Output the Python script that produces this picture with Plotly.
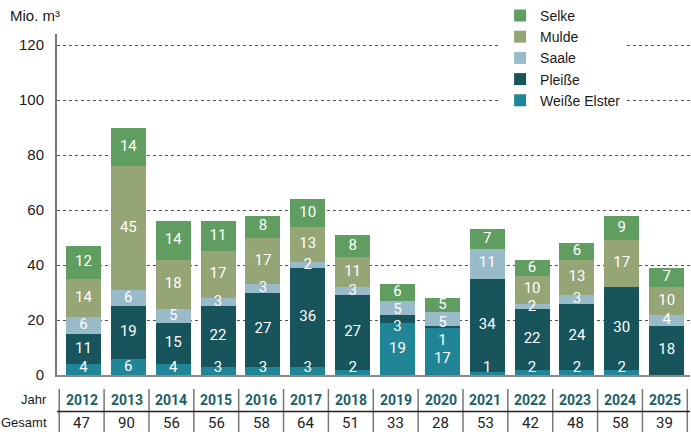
import plotly.graph_objects as go

# data (Mio. m³)
years = ["2012", "2013", "2014", "2015", "2016", "2017", "2018",
         "2019", "2020", "2021", "2022", "2023", "2024", "2025"]
weisse_elster = [4, 6, 4, 3, 3, 3, 2, 19, 17, 1, 2, 2, 2, 0]
pleisse = [11, 19, 15, 22, 27, 36, 27, 3, 1, 34, 22, 24, 30, 18]
saale = [6, 6, 5, 3, 3, 2, 3, 5, 5, 11, 2, 3, 0, 4]
mulde = [14, 45, 18, 17, 17, 13, 11, 0, 0, 0, 10, 13, 17, 10]
selke = [12, 14, 14, 11, 8, 10, 8, 6, 5, 7, 6, 6, 9, 7]
gesamt = [47, 90, 56, 56, 58, 64, 51, 33, 28, 53, 42, 48, 58, 39]

series = [
    ("Weiße Elster", weisse_elster, "#1f8597"),
    ("Pleiße", pleisse, "#17545c"),
    ("Saale", saale, "#98bac9"),
    ("Mulde", mulde, "#96a576"),
    ("Selke", selke, "#5f9e60"),
]

x = list(range(len(years)))
fig = go.Figure()

# stacked bars
for name, vals, col in series:
    fig.add_trace(go.Bar(x=x, y=vals, name=name, marker_color=col,
                         marker_line_width=0, hoverinfo="skip"))

# label positions: segment middles, pushed apart where segments are thin
n = len(years)
gap = 6.5
mids = [[0.0] * n for _ in series]
for i in range(n):
    b = 0
    pos = []
    for k, (name, vals, col) in enumerate(series):
        mids[k][i] = b + vals[i] / 2
        if vals[i] > 0:
            pos.append(k)
        b += vals[i]
    for _ in range(10):
        for a, c in zip(pos, pos[1:]):
            d = mids[c][i] - mids[a][i]
            if d < gap:
                mids[a][i] -= (gap - d) / 2
                mids[c][i] += (gap - d) / 2
    # keep the top label inside the bar, then push the others down
    mids[pos[-1]][i] = min(mids[pos[-1]][i], b - 2.8)
    for a, c in reversed(list(zip(pos, pos[1:]))):
        mids[a][i] = min(mids[a][i], mids[c][i] - gap)
    mids[pos[0]][i] = max(mids[pos[0]][i], 2.4)

for k, (name, vals, col) in enumerate(series):
    txt = [str(v) if v > 0 else "" for v in vals]
    fig.add_trace(go.Scatter(x=x, y=mids[k], text=txt, mode="text",
                             textfont=dict(family="Roboto", size=15, color="white"),
                             showlegend=False, hoverinfo="skip", cliponaxis=False))

# table under the chart
shapes = []
for i in range(n + 1):
    shapes.append(dict(type="line", xref="x", yref="paper",
                       x0=i - 0.54, x1=i - 0.54, y0=-0.041, y1=-0.175,
                       line=dict(color="#777777", width=1.5)))
shapes.append(dict(type="line", xref="x", yref="paper",
                   x0=-0.59, x1=13.52, y0=-0.107, y1=-0.107,
                   line=dict(color="#222222", width=1.5)))

annotations = []
for i, (yr, g) in enumerate(zip(years, gesamt)):
    annotations.append(dict(x=i - 0.04, y=-0.072, xref="x", yref="paper",
                            yanchor="middle", text="<b>" + yr + "</b>", showarrow=False,
                            font=dict(family="Roboto", size=14, color="#1d5f67")))
    annotations.append(dict(x=i - 0.04, y=-0.14, xref="x", yref="paper",
                            yanchor="middle", text=str(g), showarrow=False,
                            font=dict(family="Roboto", size=15, color="#222222")))
annotations.append(dict(x=-0.012, y=-0.072, xref="paper", yref="paper", text="Jahr",
                        xanchor="right", yanchor="middle", showarrow=False,
                        font=dict(size=13)))
annotations.append(dict(x=-0.012, y=-0.14, xref="paper", yref="paper", text="Gesamt",
                        xanchor="right", yanchor="middle", showarrow=False,
                        font=dict(size=13)))
annotations.append(dict(x=-0.077, y=1.053, xref="paper", yref="paper", text="Mio. m³",
                        xanchor="left", yanchor="middle", showarrow=False,
                        font=dict(size=15)))

fig.update_layout(
    width=691, height=432,
    margin=dict(l=57, r=1, t=34, b=57, autoexpand=False),
    barmode="stack", bargap=0.22,
    plot_bgcolor="white", paper_bgcolor="white",
    font=dict(family="Liberation Sans", size=15, color="#1a1a1a"),
    shapes=shapes, annotations=annotations,
    legend=dict(x=0.70, y=1.10, xanchor="left", yanchor="top",
                traceorder="reversed", bgcolor="white",
                font=dict(size=14), tracegroupgap=0),
    xaxis=dict(range=[-0.59, 13.52], showticklabels=False, ticks="",
               showgrid=False, zeroline=False, showline=True, automargin=False,
               linecolor="#8a8a8a", linewidth=2, fixedrange=True),
    yaxis=dict(range=[0, 124], tickvals=[0, 20, 40, 60, 80, 100, 120],
               showgrid=True, gridcolor="#555555", griddash="dot", gridwidth=1,
               zeroline=False, showline=True, linecolor="#777777", linewidth=2,
               automargin=False, ticks="", ticklabelstandoff=8, fixedrange=True),
)

# drop the default page margin so the figure sits at the window's corner
fig.write_html("out.html", config={"displayModeBar": False},
               post_script="document.body.style.margin='0';")
